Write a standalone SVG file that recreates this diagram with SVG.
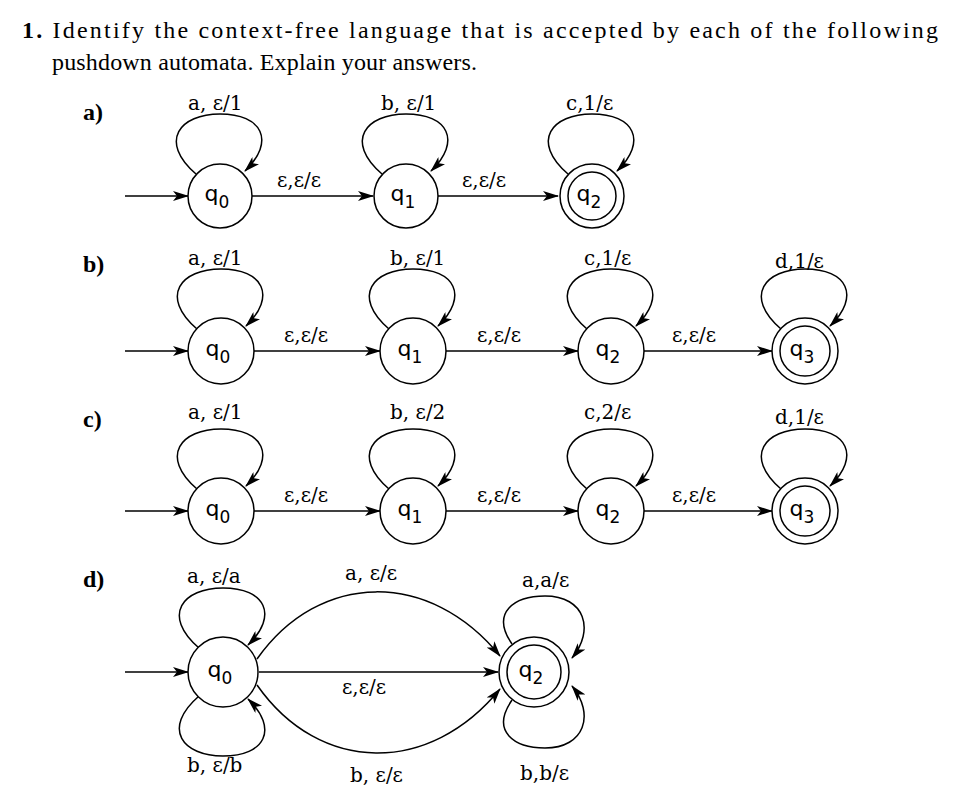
<svg xmlns="http://www.w3.org/2000/svg" width="956" height="794" viewBox="0 0 956 794">
<style>
.t{font-family:"Liberation Serif","DejaVu Serif",serif;font-size:24px;fill:#000}
.b{font-weight:bold}
.l{font-family:"DejaVu Serif","Liberation Serif",serif;font-size:20px;fill:#000}
.s{fill:#fff;stroke:#000;stroke-width:1.5}
.e{fill:none;stroke:#000;stroke-width:1.5;marker-end:url(#ah)}
.q{font-family:"DejaVu Sans",sans-serif;font-size:22px;text-anchor:middle}
.sub{font-size:17px}
</style>
<defs>
<marker id="ah" markerWidth="16" markerHeight="10" refX="15" refY="5" orient="auto" markerUnits="userSpaceOnUse">
<path d="M0,0 L16,5 L0,10 L4,5 z" fill="#000"/>
</marker>
<g id="loop"><path class="e" d="M-24,-22 C-62,-55 -40,-82 0,-82 C42,-82 56,-55 25,-25"/></g>
<g id="loopd"><path class="e" d="M-24,22 C-62,55 -40,82 0,82 C42,82 56,55 25,25"/></g>
</defs>
<rect width="956" height="794" fill="#fff"/>
<text class="t" x="22" y="38" textLength="916" lengthAdjust="spacing"><tspan class="b">1.</tspan> Identify the context-free language that is accepted by each of the following</text>
<text class="t" x="52" y="70" textLength="425" lengthAdjust="spacing">pushdown automata. Explain your answers.</text>
<text class="t b" x="83" y="120">a)</text>
<text class="t b" x="83" y="272">b)</text>
<text class="t b" x="83" y="427">c)</text>
<text class="t b" x="83" y="587">d)</text>

<g id="connectors">
<line class="e" x1="125" y1="196" x2="188" y2="196"/>
<use href="#loop" x="220" y="196"/>
<line class="e" x1="252" y1="196" x2="373" y2="196"/>
<use href="#loop" x="406" y="196"/>
<line class="e" x1="438" y1="196" x2="558" y2="196"/>
<use href="#loop" x="592" y="196"/>
<line class="e" x1="125" y1="351" x2="188" y2="351"/>
<use href="#loop" x="221" y="351"/>
<line class="e" x1="254" y1="351" x2="380" y2="351"/>
<use href="#loop" x="413" y="351"/>
<line class="e" x1="446" y1="351" x2="578" y2="351"/>
<use href="#loop" x="611" y="351"/>
<line class="e" x1="644" y1="351" x2="772" y2="351"/>
<use href="#loop" x="805" y="351"/>
<line class="e" x1="125" y1="511" x2="188" y2="511"/>
<use href="#loop" x="221" y="511"/>
<line class="e" x1="254" y1="511" x2="380" y2="511"/>
<use href="#loop" x="413" y="511"/>
<line class="e" x1="446" y1="511" x2="578" y2="511"/>
<use href="#loop" x="611" y="511"/>
<line class="e" x1="644" y1="511" x2="772" y2="511"/>
<use href="#loop" x="805" y="511"/>
<line class="e" x1="125" y1="672" x2="188" y2="672"/>
<use href="#loop" x="223" y="670"/>
<use href="#loopd" x="223" y="674"/>
<line class="e" x1="259" y1="672" x2="498" y2="672"/>
<path class="e" d="M257,659 C320,570 430,570 500,656"/>
<path class="e" d="M257,685 C320,775 430,775 500,689"/>
<path class="e" d="M512,644 C490,612 515,596 545,596 C585,596 595,630 572,658"/>
<path class="e" d="M512,700 C490,732 515,748 545,748 C585,748 595,714 572,686"/>
</g>

<g id="a-q0"><circle class="s" cx="220" cy="196" r="32"/><text class="q" x="217" y="201">q<tspan class="sub" dy="7">0</tspan></text></g>
<g id="a-q1"><circle class="s" cx="406" cy="196" r="32"/><text class="q" x="403" y="201">q<tspan class="sub" dy="7">1</tspan></text></g>
<g id="a-q2"><circle class="s" cx="592" cy="196" r="32"/><circle class="s" cx="592" cy="196" r="24"/><text class="q" x="589" y="201">q<tspan class="sub" dy="7">2</tspan></text></g>

<g id="b-q0"><circle class="s" cx="221" cy="351" r="33"/><text class="q" x="218" y="356">q<tspan class="sub" dy="7">0</tspan></text></g>
<g id="b-q1"><circle class="s" cx="413" cy="351" r="33"/><text class="q" x="410" y="356">q<tspan class="sub" dy="7">1</tspan></text></g>
<g id="b-q2"><circle class="s" cx="611" cy="351" r="33"/><text class="q" x="608" y="356">q<tspan class="sub" dy="7">2</tspan></text></g>
<g id="b-q3"><circle class="s" cx="805" cy="351" r="33"/><circle class="s" cx="805" cy="351" r="25"/><text class="q" x="802" y="356">q<tspan class="sub" dy="7">3</tspan></text></g>

<g id="c-q0"><circle class="s" cx="221" cy="511" r="33"/><text class="q" x="218" y="516">q<tspan class="sub" dy="7">0</tspan></text></g>
<g id="c-q1"><circle class="s" cx="413" cy="511" r="33"/><text class="q" x="410" y="516">q<tspan class="sub" dy="7">1</tspan></text></g>
<g id="c-q2"><circle class="s" cx="611" cy="511" r="33"/><text class="q" x="608" y="516">q<tspan class="sub" dy="7">2</tspan></text></g>
<g id="c-q3"><circle class="s" cx="805" cy="511" r="33"/><circle class="s" cx="805" cy="511" r="25"/><text class="q" x="802" y="516">q<tspan class="sub" dy="7">3</tspan></text></g>

<g id="d-q0"><circle class="s" cx="223" cy="672" r="35"/><text class="q" x="220" y="677">q<tspan class="sub" dy="7">0</tspan></text></g>
<g id="d-q2"><circle class="s" cx="534" cy="672" r="35"/><circle class="s" cx="534" cy="672" r="27"/><text class="q" x="531" y="677">q<tspan class="sub" dy="7">2</tspan></text></g>

<g id="labels">
<text class="l" x="188" y="110">a, ε/1</text>
<text class="l" x="381" y="110">b, ε/1</text>
<text class="l" x="566" y="110">c,1/ε</text>
<text class="l" x="277" y="187">ε,ε/ε</text>
<text class="l" x="462" y="187">ε,ε/ε</text>

<text class="l" x="188" y="265">a, ε/1</text>
<text class="l" x="390" y="265">b, ε/1</text>
<text class="l" x="584" y="265">c,1/ε</text>
<text class="l" x="775" y="268">d,1/ε</text>
<text class="l" x="284" y="342">ε,ε/ε</text>
<text class="l" x="477" y="342">ε,ε/ε</text>
<text class="l" x="672" y="342">ε,ε/ε</text>

<text class="l" x="188" y="419">a, ε/1</text>
<text class="l" x="390" y="419">b, ε/2</text>
<text class="l" x="584" y="419">c,2/ε</text>
<text class="l" x="775" y="424">d,1/ε</text>
<text class="l" x="284" y="502">ε,ε/ε</text>
<text class="l" x="477" y="502">ε,ε/ε</text>
<text class="l" x="672" y="502">ε,ε/ε</text>

<text class="l" x="187" y="583">a, ε/a</text>
<text class="l" x="345" y="580">a, ε/ε</text>
<text class="l" x="522" y="587">a,a/ε</text>
<text class="l" x="342" y="694">ε,ε/ε</text>
<text class="l" x="187" y="772">b, ε/b</text>
<text class="l" x="350" y="782">b, ε/ε</text>
<text class="l" x="520" y="780">b,b/ε</text>
</g>
</svg>
